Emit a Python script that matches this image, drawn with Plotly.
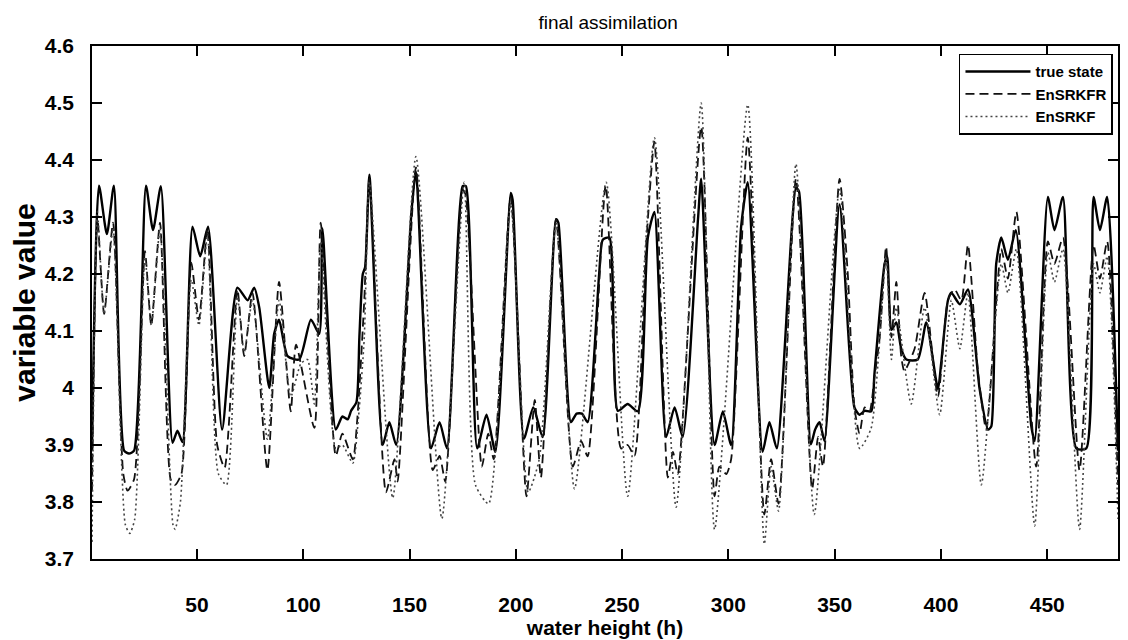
import plotly.graph_objects as go

# ---- data ----
true_x = [0.6, 3.9, 7.6, 10.9, 15.7, 18.0, 20.4, 26.0, 29.3, 33.0, 38.5, 40.8, 43.2, 47.9, 51.5, 55.2,
          61.8, 69.0, 73.8, 76.9, 79.3, 84.0, 86.3, 88.6, 92.6, 98.1, 103.6, 107.5, 109.0, 115.3, 118.4,
          120.9, 122.5, 125.0, 126.4, 128.0, 129.1, 131.1, 137.4, 140.5, 143.7, 150.9, 153.0, 160.1, 164.1,
          167.6, 175.0, 176.5, 181.8, 186.2, 190.4, 197.6, 198.5, 203.8, 208.2, 212.6, 218.9, 220.0, 225.9,
          228.6, 231.1, 233.8, 239.2, 240.9, 244.0, 248.0, 252.6, 257.4, 262.1, 265.2, 270.7, 274.7, 278.5,
          285.7, 287.2, 293.5, 297.4, 301.3, 306.0, 309.1, 316.1, 319.3, 322.8, 331.8, 333.2, 338.8, 340.8,
          342.9, 345.2, 352.3, 359.3, 361.7, 364.1, 367.2, 368.7, 373.5, 374.7, 376.7, 379.0, 381.3, 383.7,
          389.1, 393.1, 398.6, 400.1, 403.3, 404.9, 408.9, 412.7, 418.2, 422.2, 423.7, 426.0, 428.4, 431.5,
          435.2, 442.5, 444.1, 450.3, 453.4, 457.4, 463.7, 468.4, 471.8, 474.8, 478.2, 483.3]
true_y = [3.89, 4.355, 4.27, 4.355, 3.89, 3.885, 3.89, 4.355, 4.277, 4.354, 3.904, 3.925, 3.905, 4.283, 4.231, 4.283,
          3.927, 4.176, 4.154, 4.176, 4.141, 4.0, 4.095, 4.12, 4.056, 4.05, 4.12, 4.095, 4.28, 3.927, 3.95,
          3.945, 3.96, 3.975, 4.09, 4.2, 4.212, 4.374, 3.90, 3.94, 3.90, 4.309, 4.38, 3.894, 3.94,
          3.894, 4.354, 4.354, 3.894, 3.953, 3.888, 4.342, 4.33, 3.911, 3.966, 3.914, 4.296, 4.29, 3.94,
          3.955, 3.955, 3.94, 4.2, 4.26, 4.264, 3.96, 3.972, 3.959, 4.264, 4.309, 3.914, 3.966, 3.914,
          4.296, 4.367, 3.90, 3.959, 3.90, 4.283, 4.361, 3.888, 3.94, 3.894, 4.351, 4.345, 3.901, 3.927,
          3.94, 3.907, 4.322, 3.966, 3.953, 3.96, 3.959, 4.024, 4.218, 4.231, 4.102, 4.115, 4.069, 4.05,
          4.05, 4.115, 3.998, 4.043, 4.154, 4.167, 4.147, 4.173, 3.998, 3.927, 3.933, 4.218, 4.264, 4.225,
          4.277, 3.933, 3.907, 4.335, 4.277, 4.335, 3.894, 3.894, 4.335, 4.277, 4.335, 3.89]

ensrkfr_x = [0.6, 3.1, 6.3, 10.5, 15.3, 17.3, 20.4, 25.5, 28.5, 32.6, 37.6, 39.7, 42.7, 47.3, 50.9, 54.9,
             59.5, 63.0, 69.0, 72.2, 76.1, 83.1, 88.6, 94.1, 96.6, 105.2, 108.2, 115.3, 118.4,
             123.3, 125.5, 128.7, 131.1, 138.9, 142.9, 144.4, 153.0, 160.9, 164.1, 166.8, 175.0, 176.3,
             184.0, 187.0, 189.6, 197.6, 205.0, 208.9, 211.8, 218.9, 226.8, 230.7, 233.8, 242.3,
             249.5, 252.6, 255.8, 261.3, 265.2, 271.5, 273.9, 276.2, 287.2, 293.5, 295.8, 299.0, 301.3,
             309.1, 316.9, 320.1, 323.6, 331.8, 339.4, 342.2, 344.5, 352.3, 356.1, 359.3, 361.7, 364.1,
             366.4, 368.7, 371.2, 374.2, 376.7, 379.0, 381.3, 382.8, 387.6, 392.3, 398.6, 403.3, 406.4,
             409.6, 412.7, 417.4, 421.3, 426.0, 428.4, 431.5, 435.5, 444.8, 450.3, 453.4, 457.4, 465.2,
             471.8, 474.8, 478.2, 483.3]
ensrkfr_y = [3.82, 4.30, 4.13, 4.29, 3.85, 3.82, 3.84, 4.24, 4.11, 4.29, 3.84, 3.83, 3.85, 4.22, 4.12, 4.28,
             3.90, 3.86, 4.173, 4.056, 4.167, 3.856, 4.186, 3.959, 4.076, 3.930, 4.29, 3.881, 3.92,
             3.875, 3.95, 4.154, 4.367, 3.817, 3.875, 3.836, 4.387, 3.856, 3.881, 3.836, 4.348, 4.34,
             3.862, 3.92, 3.875, 4.335, 3.81, 3.979, 3.843, 4.296, 3.862, 3.907, 3.88, 4.355,
             3.894, 3.90, 3.881, 4.25, 4.432, 3.843, 3.888, 3.849, 4.458, 3.81, 3.862, 3.849, 3.875,
             4.439, 3.778, 3.875, 3.797, 4.367, 3.823, 3.914, 3.862, 4.367, 4.205, 3.966, 3.92, 3.966,
             3.959, 4.018, 4.089, 4.248, 4.089, 4.186, 4.056, 4.03, 4.069, 4.167, 3.985, 4.154, 4.173,
             4.154, 4.251, 4.03, 3.927, 4.15, 4.244, 4.192, 4.309, 3.862, 4.257, 4.218, 4.264, 3.856,
             4.251, 4.192, 4.257, 3.83]

ensrkf_x = [0.6, 3.1, 6.3, 10.5, 16.3, 18.4, 20.7, 25.5, 28.5, 32.6, 38.7, 39.7, 42.2, 47.3, 50.9, 54.9,
            60.0, 63.9, 69.0, 72.2, 76.1, 83.1, 88.6, 94.1, 98.9, 102.0, 105.2, 108.2, 115.3, 118.4,
            123.3, 126.0, 128.7, 131.1, 142.1, 153.0, 165.2, 175.7, 181.0, 187.2, 197.6, 205.8, 211.0,
            218.9, 227.6, 242.5, 252.6, 265.2, 275.4, 287.2, 293.5, 309.1, 316.9, 320.1, 323.6, 331.8,
            340.4, 352.3, 361.7, 367.2, 374.2, 376.7, 379.0, 386.0, 392.3, 399.4, 404.9, 408.9, 412.7,
            419.0, 428.4, 431.5, 435.5, 444.1, 450.3, 453.4, 457.4, 465.2, 471.8, 474.8, 478.2, 483.3]
ensrkf_y = [3.73, 4.31, 4.13, 4.28, 3.76, 3.745, 3.77, 4.23, 4.11, 4.28, 3.76, 3.752, 3.80, 4.19, 4.11, 4.27,
            3.85, 3.83, 4.16, 4.063, 4.154, 3.91, 4.154, 3.985, 4.043, 4.05, 3.972, 4.257, 3.894, 3.90,
            3.868, 3.95, 4.089, 4.361, 3.807, 4.406, 3.771, 4.361, 3.83, 3.797, 4.322, 3.817, 3.875,
            4.29, 3.823, 4.361, 3.81, 4.439, 3.791, 4.50, 3.752, 4.497, 3.726, 3.862, 3.784, 4.393,
            3.778, 4.348, 3.894, 3.93, 4.231, 4.05, 4.141, 3.972, 4.141, 3.953, 4.154, 4.069, 4.167,
            3.83, 4.218, 4.167, 4.244, 3.758, 4.238, 4.186, 4.244, 3.752, 4.218, 4.167, 4.231, 3.77]

x_ticks = [50, 100, 150, 200, 250, 300, 350, 400, 450]
y_ticks = [3.7, 3.8, 3.9, 4.0, 4.1, 4.2, 4.3, 4.4, 4.5, 4.6]
y_tick_text = ["3.7", "3.8", "3.9", "4", "4.1", "4.2", "4.3", "4.4", "4.5", "4.6"]

FONT = "Liberation Sans, Arial, sans-serif"

fig = go.Figure()
fig.add_trace(go.Scatter(x=true_x, y=true_y, mode="lines", name="true state", legendgroup="a",
                         line=dict(color="#000000", width=2.4, shape="spline", smoothing=0.6)))
fig.add_trace(go.Scatter(x=ensrkfr_x, y=ensrkfr_y, mode="lines", name="EnSRKFR", legendgroup="b",
                         line=dict(color="#111111", width=1.8, dash="9px,5px", shape="spline", smoothing=0.6)))
fig.add_trace(go.Scatter(x=ensrkf_x, y=ensrkf_y, mode="lines", name="EnSRKF", legendgroup="c",
                         line=dict(color="#444444", width=1.6, dash="2px,3px", shape="spline", smoothing=0.6)))

axis_common = dict(showline=True, linecolor="black", linewidth=1.5, mirror="ticks",
                   ticks="inside", ticklen=10, tickwidth=1.5, tickcolor="black",
                   showgrid=False, zeroline=False,
                   tickfont=dict(family=FONT, size=21, color="black", weight="bold"))

fig.update_layout(
    width=1128, height=640,
    margin=dict(l=84, r=18, t=38, b=89),
    paper_bgcolor="white", plot_bgcolor="white",
    title=dict(text="final assimilation", x=0.532, xanchor="center", y=0.978, yanchor="middle",
               font=dict(family="Liberation Sans Narrow, Liberation Sans, Arial", size=19, color="black")),
    xaxis=dict(range=[0.6, 483.3], tickvals=x_ticks, ticklabelstandoff=26,
               title=dict(text="water height (h)", standoff=2,
                          font=dict(family=FONT, size=21, color="black", weight="bold")),
               **axis_common),
    yaxis=dict(range=[3.7, 4.6], tickvals=y_ticks, ticktext=y_tick_text, ticklabelstandoff=12,
               title=dict(text="variable value", standoff=4,
                          font=dict(family=FONT, size=30, color="black", weight="bold")),
               **axis_common),
    legend=dict(x=0.845, y=0.985, xanchor="left", yanchor="top",
                bgcolor="white", bordercolor="black", borderwidth=1.5,
                font=dict(family=FONT, size=15, color="black", weight="bold"),
                itemwidth=65, tracegroupgap=0, traceorder="grouped"),
    showlegend=True,
)

fig.write_html("out.html")
